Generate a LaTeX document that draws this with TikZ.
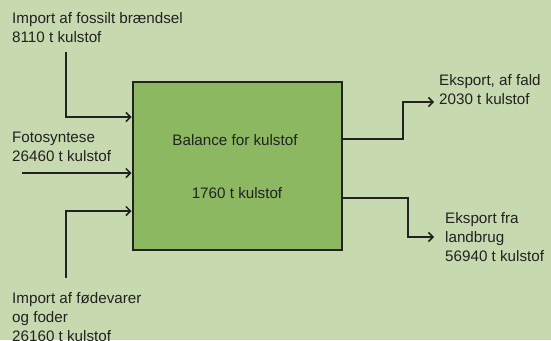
\documentclass[tikz,border=0pt]{standalone}
\usepackage{fontspec}
\setmainfont{Liberation Sans}
\usetikzlibrary{arrows.meta}
\definecolor{bgc}{HTML}{C6D9AF}
\definecolor{boxc}{HTML}{8CB862}
\definecolor{inkc}{HTML}{222222}
\begin{document}
\begin{tikzpicture}[x=1pt,y=-1pt,
  lbl/.style={anchor=north west,inner sep=0pt,align=left,text=inkc,font=\fontsize{15.2}{19}\selectfont},
  flow/.style={draw=inkc,line width=1.5pt,-{Straight Barb[length=4.5pt,width=9pt,line width=1.5pt]}},
  balbox/.style={draw=inkc,line width=2.8pt,fill=boxc,minimum width=209pt,minimum height=168pt,inner sep=0pt}]
\fill[bgc] (0,0) rectangle (551,340);
\useasboundingbox (0,0) rectangle (551,340);
\node[balbox] (bal) at (237.4,166) {};
\node[text=inkc,font=\fontsize{15.2}{19}\selectfont,anchor=base,inner sep=0pt] (t1) at (235,145) {Balance for kulstof};
\node[text=inkc,font=\fontsize{15.2}{19}\selectfont,anchor=base,inner sep=0pt] (t2) at (237,198) {1760 t kulstof};
% labels
\node[lbl] (l1) at (12,12) {Import af fossilt brændsel\\8110 t kulstof};
\node[lbl] (l2) at (12,131.5) {Fotosyntese\\26460 t kulstof};
\node[lbl] (l3) at (12,292) {Import af fødevarer\\og foder\\26160 t kulstof};
\node[lbl] (l4) at (439,74) {Eksport, af fald\\2030 t kulstof};
\node[lbl] (l5) at (445,212) {Eksport fra\\landbrug\\56940 t kulstof};
% coordinates
\coordinate (s1) at (66,52);
\coordinate (y1) at (0,117);
\coordinate (s2) at (22,173);
\coordinate (s3) at (66,278);
\coordinate (y3) at (0,211);
\coordinate (o1) at (0,139);
\coordinate (k1) at (403,102);
\coordinate (e1) at (434,102);
\coordinate (o2) at (0,198);
\coordinate (k2) at (408,237);
\coordinate (e2) at (434,237);
% connectors
\draw[flow] (s1) |- (bal.west |- y1);
\draw[flow] (s2) -- (bal.west |- s2);
\draw[flow] (s3) |- (bal.west |- y3);
\draw[flow] (bal.east |- o1) -| (k1) -- (e1);
\draw[flow] (bal.east |- o2) -| (k2) -- (e2);
\end{tikzpicture}
\end{document}
